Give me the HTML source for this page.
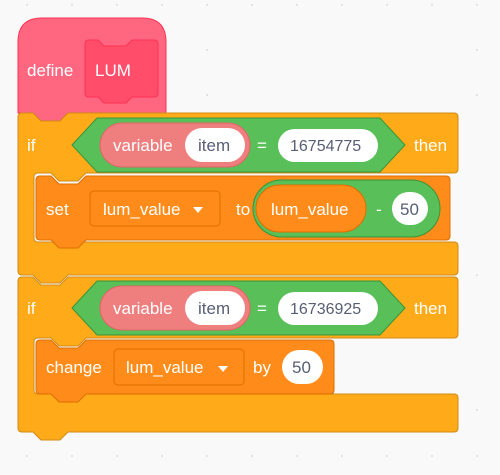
<!DOCTYPE html>
<html><head><style>
html,body{margin:0;padding:0;background:#f9f9f9;}
svg{display:block}
text{font-family:"Liberation Sans",sans-serif;font-size:17px;}
.w{fill:#fff}
.d{fill:#575e75}
</style></head><body>
<svg width="500" height="475" viewBox="0 0 500 475">
<g fill="#dcdcdc">
<circle cx="27" cy="5" r="1"/><circle cx="72" cy="5" r="1"/><circle cx="117" cy="5" r="1"/><circle cx="162" cy="5" r="1"/><circle cx="207" cy="5" r="1"/><circle cx="252" cy="5" r="1"/><circle cx="297" cy="5" r="1"/><circle cx="342" cy="5" r="1"/><circle cx="387" cy="5" r="1"/><circle cx="432" cy="5" r="1"/><circle cx="477" cy="5" r="1"/>
<circle cx="27" cy="456" r="1"/><circle cx="72" cy="456" r="1"/><circle cx="117" cy="456" r="1"/><circle cx="162" cy="456" r="1"/><circle cx="207" cy="456" r="1"/><circle cx="252" cy="456" r="1"/><circle cx="297" cy="456" r="1"/><circle cx="342" cy="456" r="1"/><circle cx="387" cy="456" r="1"/><circle cx="432" cy="456" r="1"/><circle cx="477" cy="456" r="1"/>
<circle cx="207" cy="50" r="1"/><circle cx="207" cy="95" r="1"/><circle cx="477" cy="50" r="1"/><circle cx="477" cy="95" r="1"/><circle cx="477" cy="275" r="1"/><circle cx="477" cy="410" r="1"/><circle cx="387" cy="410" r="1"/><circle cx="432" cy="410" r="1"/>
</g>
<!-- hat -->
<path d="M18,113 V42 Q18,18 42,18 H142 Q166,18 166,42 V113 H68 L60,121 H41 L33,113 Z" fill="#ff6680" stroke="#ff3355" stroke-width="1"/>
<text x="27" y="76" class="w">define</text>
<path d="M89,40 H98 L104,46 H126 L132,40 H154 Q158,40 158,44 V93 Q158,97 154,97 H132 L126,103 H104 L98,97 H89 Q85,97 85,93 V44 Q85,40 89,40 Z" fill="#ff4d6a" stroke="#ff3355"/>
<text x="95" y="76" class="w">LUM</text>

<!-- if 1 -->
<path d="M18,117 Q18,113 22,113 H33 L41,121 H60 L68,113 H454 Q458,113 458,117 V169 Q458,173 454,173 H86 L78,181 H59 L51,173 H38 Q34,173 34,177 V238 Q34,242 38,242 H454 Q458,242 458,246 V271 Q458,275 454,275 H68 L60,283 H41 L33,275 H22 Q18,275 18,271 Z" fill="#ffab19" stroke="#cf8b17"/>
<text x="27" y="151" class="w">if</text>
<path d="M72,145 L97,118 H380 L405,145 L380,172 H97 Z" fill="#59c059" stroke="#389438"/>
<rect x="100" y="123" width="150" height="44" rx="22" fill="#ef7f7f" stroke="#e06464"/>
<text x="113" y="151" class="w">variable</text>
<rect x="185" y="128" width="60" height="34" rx="17" fill="#fff"/>
<text x="198" y="151" class="d">item</text>
<text x="257" y="151" class="w">=</text>
<rect x="278" y="129" width="100" height="33" rx="16.5" fill="#fff"/>
<text x="290" y="151" class="d" style="font-size:16px">16754775</text>
<text x="414" y="151" class="w">then</text>

<!-- set -->
<path d="M40,176 H51 L59,184 H78 L86,176 H446 Q450,176 450,180 V236 Q450,240 446,240 H86 L78,248 H59 L51,240 H40 Q36,240 36,236 V180 Q36,176 40,176 Z" fill="#ff8c1a" stroke="#db6e00"/>
<text x="46" y="215" class="w">set</text>
<rect x="90" y="191" width="130" height="35" rx="4" fill="#ff8c1a" stroke="#db6e00"/>
<text x="103" y="215" class="w">lum_value</text>
<path d="M193,207 L203,207 L198,213 Z" fill="#fff"/>
<text x="236" y="215" class="w">to</text>
<rect x="253" y="180" width="187" height="57" rx="28.5" fill="#59c059" stroke="#389438"/>
<rect x="256" y="185" width="110" height="47" rx="23.5" fill="#ff8c1a" stroke="#db6e00"/>
<text x="271" y="215" class="w">lum_value</text>
<text x="376" y="215" class="w">-</text>
<rect x="392" y="192" width="36" height="33" rx="16.5" fill="#fff"/>
<text x="400" y="215" class="d">50</text>

<!-- if 2 -->
<path d="M18,281 Q18,277 22,277 H33 L41,285 H60 L68,277 H454 Q458,277 458,281 V334 Q458,338 454,338 H86 L78,346 H59 L51,338 H38 Q34,338 34,342 V390 Q34,394 38,394 H454 Q458,394 458,398 V428 Q458,432 454,432 H68 L60,440 H41 L33,432 H22 Q18,432 18,428 Z" fill="#ffab19" stroke="#cf8b17"/>
<text x="27" y="314" class="w">if</text>
<path d="M72,308 L97,281 H380 L405,308 L380,335 H97 Z" fill="#59c059" stroke="#389438"/>
<rect x="100" y="286" width="150" height="44" rx="22" fill="#ef7f7f" stroke="#e06464"/>
<text x="113" y="314" class="w">variable</text>
<rect x="185" y="291" width="60" height="34" rx="17" fill="#fff"/>
<text x="198" y="314" class="d">item</text>
<text x="257" y="314" class="w">=</text>
<rect x="278" y="292" width="100" height="33" rx="16.5" fill="#fff"/>
<text x="290" y="314" class="d" style="font-size:16px">16736925</text>
<text x="414" y="314" class="w">then</text>

<!-- change -->
<path d="M40,340 H51 L59,348 H78 L86,340 H330 Q334,340 334,344 V390 Q334,394 330,394 H86 L78,402 H59 L51,394 H40 Q36,394 36,390 V344 Q36,340 40,340 Z" fill="#ff8c1a" stroke="#db6e00"/>
<text x="46" y="373" class="w">change</text>
<rect x="114" y="349" width="130" height="36" rx="4" fill="#ff8c1a" stroke="#db6e00"/>
<text x="126" y="373" class="w">lum_value</text>
<path d="M218,366 L228,366 L223,372 Z" fill="#fff"/>
<text x="253" y="373" class="w">by</text>
<rect x="282" y="350" width="41" height="34" rx="17" fill="#fff"/>
<text x="292" y="373" class="d">50</text>
</svg>
</body></html>
